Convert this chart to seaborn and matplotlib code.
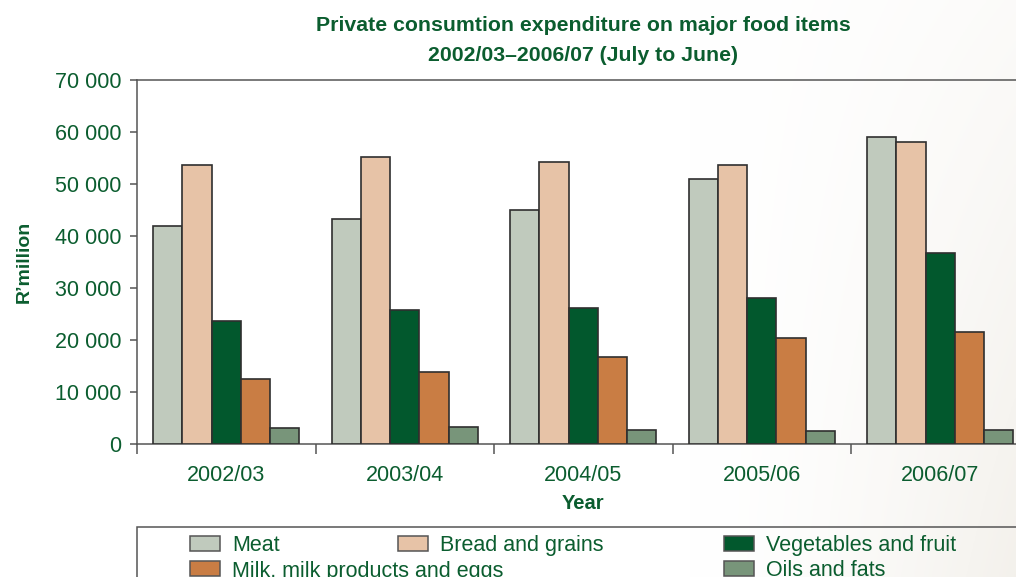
import numpy as np
import pandas as pd
import matplotlib
matplotlib.use("Agg")
import matplotlib.pyplot as plt
from matplotlib.patches import Rectangle
from matplotlib.ticker import FuncFormatter, FixedLocator
import seaborn as sns

# Private consumption expenditure on major food items, R million
years = ["2002/03", "2003/04", "2004/05", "2005/06", "2006/07"]
items = ["Meat", "Bread and grains", "Vegetables and fruit",
         "Milk, milk products and eggs", "Oils and fats"]
meat = [42000, 43200, 45000, 51000, 59100]
bread = [53700, 55300, 54300, 53700, 58000]
veg = [23700, 25900, 26100, 28200, 36700]
milk = [12600, 13900, 16800, 20400, 21600]
oils = [3200, 3400, 2700, 2600, 2800]

colors = ["#c0cabd", "#e7c3a7", "#02582d", "#c97d44", "#78957a"]
text_green = "#0b5d2f"
edge = "#2f2f2f"
spine = "#555555"

df = pd.DataFrame({
    "Year": years * 5,
    "Item": [it for it in items for _ in years],
    "Value": meat + bread + veg + milk + oils,
})

sns.set_style("white")
plt.rcParams["font.family"] = ["Liberation Sans", "DejaVu Sans"]

W, H = 1016, 577
fig = plt.figure(figsize=(W / 100, H / 100), dpi=100)

# soft warm tint towards the lower right of the page
bg = fig.add_axes([0, 0, 1, 1], zorder=-5)
xx = np.linspace(0, 1, 400)
yy = np.linspace(0, 1, 200)
X, Y = np.meshgrid(xx, yy)
t = np.clip((X - 0.68) / 0.32, 0, 1) ** 1.5 * (1.0 - 0.7 * Y)
white = np.array([1.0, 1.0, 1.0])
warm = np.array([0.955, 0.945, 0.925])
img = white[None, None, :] * (1 - t[..., None]) + warm[None, None, :] * t[..., None]
bg.imshow(img, aspect="auto", extent=[0, 1, 0, 1], origin="lower")
bg.set_axis_off()

left, right = 137 / W, 1029.5 / W
bottom, top = 1 - 444.3 / H, 1 - 80 / H
ax = fig.add_axes([left, bottom, right - left, top - bottom])
ax.set_facecolor("none")

sns.barplot(data=df, x="Year", y="Value", hue="Item", hue_order=items,
            palette=colors, width=0.82, edgecolor=edge, linewidth=1.2,
            saturation=1, legend=False, ax=ax, zorder=3)

ax.set_xlim(-0.5, len(years) - 0.5)
ax.set_ylim(0, 70000)
ax.set_yticks(np.arange(0, 70001, 10000))
ax.yaxis.set_major_formatter(FuncFormatter(lambda v, p: f"{v:,.0f}".replace(",", " ")))

# category separators on the x axis
ax.xaxis.set_minor_locator(FixedLocator(np.arange(-0.5, len(years), 1.0)))
ax.tick_params(axis="x", which="major", length=0, pad=15, labelsize=15.5,
               labelcolor=text_green)
ax.tick_params(axis="x", which="minor", length=7, width=1.1, color=spine,
               direction="out", bottom=True)
ax.tick_params(axis="y", length=5, width=1.1, color=spine, direction="out",
               left=True, pad=6, labelsize=15.5, labelcolor=text_green)

for s in ["left", "bottom", "top"]:
    ax.spines[s].set_visible(True)
    ax.spines[s].set_color(spine)
    ax.spines[s].set_linewidth(1.1)
ax.spines["right"].set_visible(False)

ax.set_xlabel("Year", fontsize=14.5, fontweight="bold", color=text_green, labelpad=5.5)
ax.set_ylabel("R\u2019million", fontsize=14, fontweight="bold", color=text_green, labelpad=16)
ax.set_title("Private consumtion expenditure on major food items\n"
             "2002/03\u20132006/07 (July to June)",
             fontsize=15.3, fontweight="bold", color=text_green,
             linespacing=1.72, pad=14)

# legend panel along the bottom edge
fig.add_artist(Rectangle((left, -0.5), 1.0, 0.5 + (1 - 527 / H),
                         transform=fig.transFigure, facecolor="none",
                         edgecolor=spine, linewidth=1.1, zorder=2))
slots = [(190, 543), (398, 543), (724, 543), (190, 568.5), (724, 568.5)]
sw, sh = 30, 15
for (px, py), name, c in zip(slots, items, colors):
    fig.add_artist(Rectangle((px / W, 1 - (py + sh / 2) / H), sw / W, sh / H,
                             transform=fig.transFigure, facecolor=c,
                             edgecolor=spine, linewidth=1.1, zorder=3))
    fig.text((px + sw + 12) / W, 1 - py / H, name, fontsize=15.5,
             color=text_green, va="center_baseline", ha="left")

fig.savefig("out.png", dpi=100)
